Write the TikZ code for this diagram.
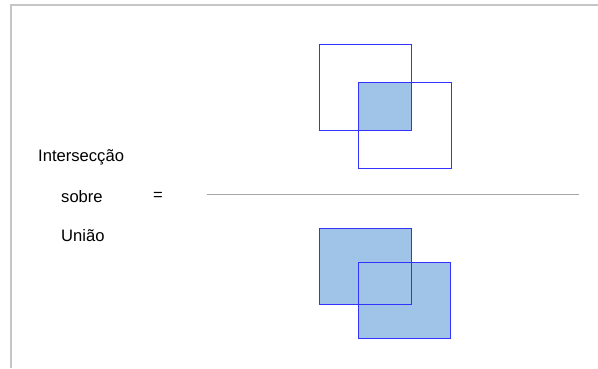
\documentclass[tikz,border=0pt]{standalone}
\usepackage{fontspec}
\setmainfont{Liberation Sans}
\begin{document}
\begin{tikzpicture}[x=1pt,y=-1pt,
  sq/.style={draw=blue!80!white, line width=1pt},
  fillc/.style={fill=fillblue},
  lbl/.style={font=\fontsize{16.6}{19}\selectfont, inner sep=0pt, anchor=west},
  frame/.style={draw=gray!45, line width=1.2pt}]
\definecolor{fillblue}{HTML}{A0C4E8}
\useasboundingbox (0,0) rectangle (598,368);
% frame
\draw[frame] (11,368) -- (11,5) -- (598,5);
% labels
\node[lbl] (inter) at (38,157) {Intersecção};
\node[lbl] (sobre) at (61,196.5) {sobre};
\node[lbl] (eq) at (153,196.5) {=};
\node[lbl] (uniao) at (61,236) {União};
% fraction bar
\coordinate (barL) at (207,194.5);
\coordinate (barR) at (579,194.5);
\draw[draw=gray!70, line width=1.5pt] (barL) -- (barR);
% top: intersection
\fill[fillc] (358,82) rectangle (411,130);
\draw[sq] (319,44) rectangle (411,130);
\draw[sq] (358,82) rectangle (451,168);
% bottom: union
\fill[fillc] (319,228) rectangle (411,304);
\fill[fillc] (358,262) rectangle (450,338);
\draw[sq] (319,228) rectangle (411,304);
\draw[sq] (358,262) rectangle (450,338);
\end{tikzpicture}
\end{document}
